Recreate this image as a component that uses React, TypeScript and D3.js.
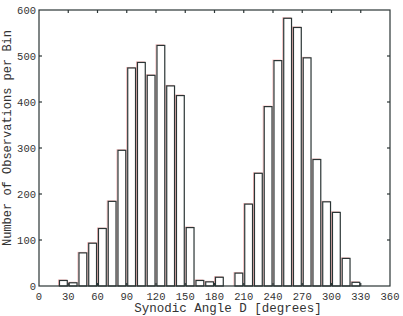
import React, { useRef, useEffect } from "react";
import * as d3 from "d3";

// bin start (degrees), 10-degree bins
export const binStarts = [
  20, 30, 40, 50, 60, 70, 80, 90, 100, 110, 120, 130, 140, 150, 160, 170, 180,
  200, 210, 220, 230, 240, 250, 260, 270, 280, 290, 300, 310, 320,
];
export const counts = [
  12, 7, 72, 93, 125, 184, 295, 474, 486, 458, 523, 435, 414, 127, 12, 9, 19,
  28, 178, 245, 390, 490, 582, 562, 496, 275, 183, 160, 60, 8,
];
export const xTicks = [0, 30, 60, 90, 120, 150, 180, 210, 240, 270, 300, 330, 360];
export const yTicks = [0, 100, 200, 300, 400, 500, 600];

const App = () => {
  const ref = useRef<SVGSVGElement>(null);

  useEffect(() => {
    const width = 403;
    const height = 316;
    const m = { left: 39, right: 13, top: 10, bottom: 30 };
    const svg = d3.select(ref.current);
    svg.selectAll("*").remove();

    const x = d3.scaleLinear().domain([0, 360]).range([m.left, width - m.right]);
    const y = d3.scaleLinear().domain([0, 600]).range([height - m.bottom, m.top]);
    const font = "'Liberation Mono', 'DejaVu Sans Mono', monospace";
    const ink = "#2b3535";

    const data = binStarts.map((b, i) => ({ b, c: counts[i] }));

    // faint red ghost to mimic the original's colour fringing
    svg
      .append("g")
      .selectAll("rect")
      .data(data)
      .enter()
      .append("rect")
      .attr("x", (d) => x(d.b + 1) - 1)
      .attr("y", (d) => y(d.c) - 0.5)
      .attr("width", (d) => x(d.b + 9) - x(d.b + 1))
      .attr("height", (d) => y(0) - y(d.c))
      .attr("fill", "none")
      .attr("stroke", "#f2b8b8")
      .attr("stroke-width", 1);

    svg
      .append("g")
      .selectAll("rect")
      .data(data)
      .enter()
      .append("rect")
      .attr("x", (d) => x(d.b + 1))
      .attr("y", (d) => y(d.c))
      .attr("width", (d) => x(d.b + 9) - x(d.b + 1))
      .attr("height", (d) => y(0) - y(d.c))
      .attr("fill", "white")
      .attr("stroke", ink)
      .attr("stroke-width", 1.2);

    // frame
    svg
      .append("rect")
      .attr("x", m.left)
      .attr("y", m.top)
      .attr("width", width - m.right - m.left)
      .attr("height", height - m.bottom - m.top)
      .attr("fill", "none")
      .attr("stroke", ink)
      .attr("stroke-width", 1.2);

    const tl = 3;
    const ticks = svg.append("g").attr("stroke", ink).attr("stroke-width", 1.2);
    xTicks.slice(1, -1).forEach((t) => {
      ticks.append("line").attr("x1", x(t)).attr("x2", x(t)).attr("y1", y(0)).attr("y2", y(0) - tl);
      ticks.append("line").attr("x1", x(t)).attr("x2", x(t)).attr("y1", y(600)).attr("y2", y(600) + tl);
    });
    yTicks.slice(1, -1).forEach((t) => {
      ticks.append("line").attr("x1", x(0)).attr("x2", x(0) + tl).attr("y1", y(t)).attr("y2", y(t));
      ticks.append("line").attr("x1", x(360)).attr("x2", x(360) - tl).attr("y1", y(t)).attr("y2", y(t));
    });

    svg
      .append("g")
      .selectAll("text")
      .data(xTicks)
      .enter()
      .append("text")
      .attr("x", (d) => x(d))
      .attr("y", y(0) + 14)
      .attr("text-anchor", "middle")
      .style("font-family", font)
      .style("font-size", "10.5px")
      .attr("fill", "#333")
      .text((d) => d);

    svg
      .append("g")
      .selectAll("text")
      .data(yTicks)
      .enter()
      .append("text")
      .attr("x", x(0) - 3)
      .attr("y", (d) => y(d) + 4)
      .attr("text-anchor", "end")
      .style("font-family", font)
      .style("font-size", "10.5px")
      .attr("fill", "#333")
      .text((d) => d);

    svg
      .append("text")
      .attr("x", 228)
      .attr("y", 312)
      .attr("text-anchor", "middle")
      .style("font-family", font)
      .style("font-size", "12.5px")
      .attr("fill", "#333")
      .text("Synodic Angle D [degrees]");

    svg
      .append("text")
      .attr("transform", `translate(11, ${(m.top + height - m.bottom) / 2 - 10}) rotate(-90)`)
      .attr("text-anchor", "middle")
      .style("font-family", font)
      .style("font-size", "12px")
      .attr("fill", "#333")
      .text("Number of Observations per Bin");
  }, []);

  return (
    <svg
      ref={ref}
      width={403}
      height={316}
      style={{ position: "absolute", left: 0, top: 0, background: "white" }}
    ></svg>
  );
};

export default App;
